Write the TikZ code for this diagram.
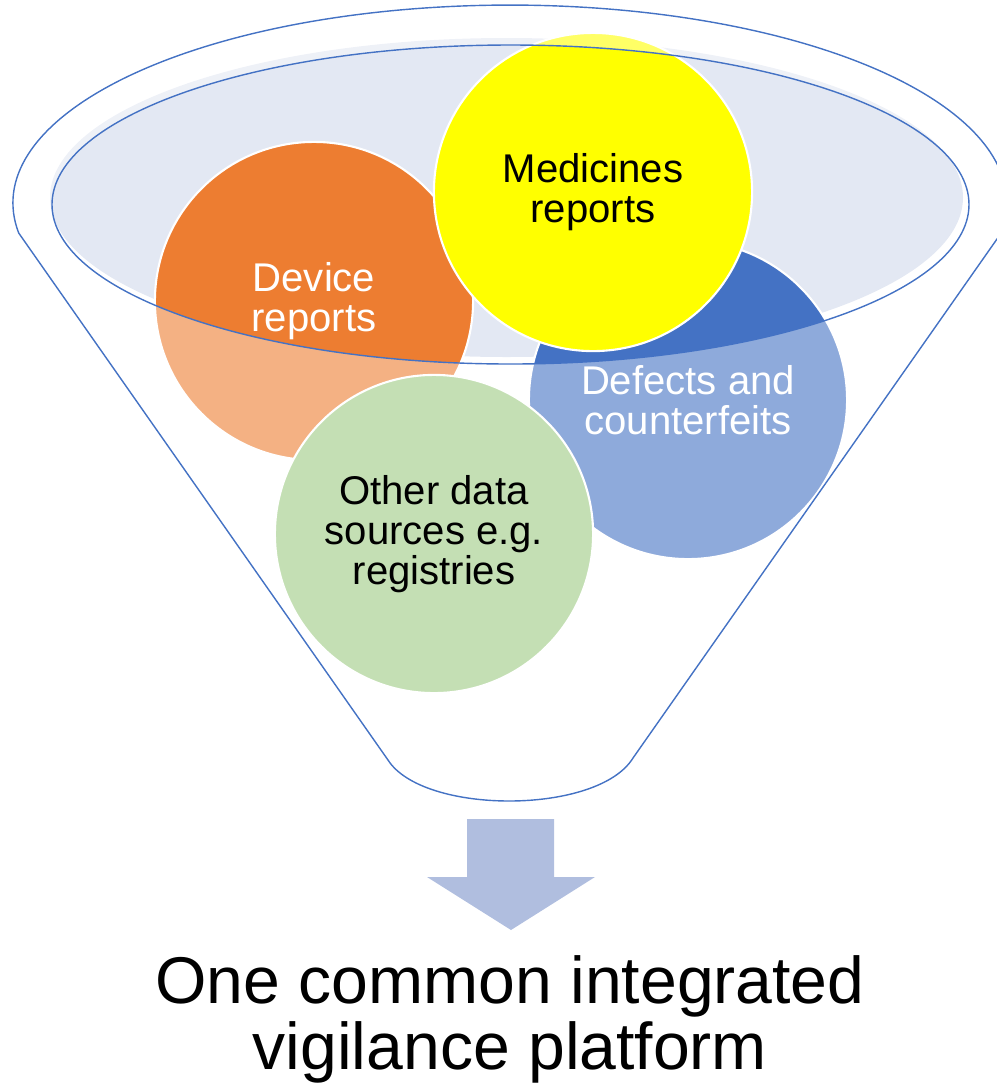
\documentclass[tikz,border=0pt]{standalone}
\usepackage{fontspec}
\setmainfont{Liberation Sans}
\definecolor{funnelblue}{HTML}{4472C4}
\definecolor{openfill}{HTML}{E3E8F3}
\definecolor{devorange}{HTML}{ED7D31}
\definecolor{defblue}{HTML}{4472C4}
\definecolor{medyellow}{HTML}{FFFF00}
\definecolor{othergreen}{RGB}{157,203,131}
\definecolor{arrowblue}{RGB}{176,190,223}
\tikzset{
  bubble/.style={circle, draw=white, line width=0.6pt, minimum size=3.18cm, inner sep=0pt},
  bubbletext/.style={align=center, font=\fontsize{11.4}{11.4}\selectfont},
  rim/.style={draw=funnelblue, line width=0.4pt}
}
\begin{document}
\begin{tikzpicture}[x=0.01cm,y=-0.01cm]
\useasboundingbox (0,0) rectangle (996,1084);
\fill[openfill] (506.5,197.5) ellipse [x radius=456.5, y radius=159.5];
\node[bubble, fill=devorange] (device) at (314,301) {};
\node[bubble, fill=defblue] (defects) at (688,400) {};
\node[bubble, fill=othergreen] (other) at (434,534) {};
\node[bubble, fill=medyellow] (medicines) at (593,192) {};
\fill[white, fill opacity=0.4, even odd rule]
	(18.7,233) arc [start angle=171.3, end angle=368.7, x radius=497, y radius=198]
	-- (633,758) .. controls (598,815) and (423,815) .. (388,760) -- cycle
	(510.5,204.5) ellipse [x radius=458.5, y radius=159.5];
\path[rim]
	(18.7,233) arc [start angle=171.3, end angle=368.7, x radius=497, y radius=198]
	-- (633,758) .. controls (598,815) and (423,815) .. (388,760) -- cycle;
\path[rim] (510.5,204.5) ellipse [x radius=458.5, y radius=159.5];
\path
	(device) node [bubbletext, white] (devicetext) {Device\\reports}
	(defects) node [bubbletext, white] (defectstext) {Defects and\\counterfeits}
	(other) node [bubbletext] (othertext) {Other data\\sources e.g.\\registries}
	(medicines) node [bubbletext] (medicinestext) {Medicines\\reports};
\fill[arrowblue] (467,819) -- (554,819) -- (554,877) -- (595,877) -- (511,930) -- (427,877) -- (467,877) -- cycle;
\node[anchor=north, inner sep=0pt, align=center, font=\fontsize{18.8}{18.8}\selectfont] (platform) at (510,955) {One common integrated\\vigilance platform};
\end{tikzpicture}
\end{document}
